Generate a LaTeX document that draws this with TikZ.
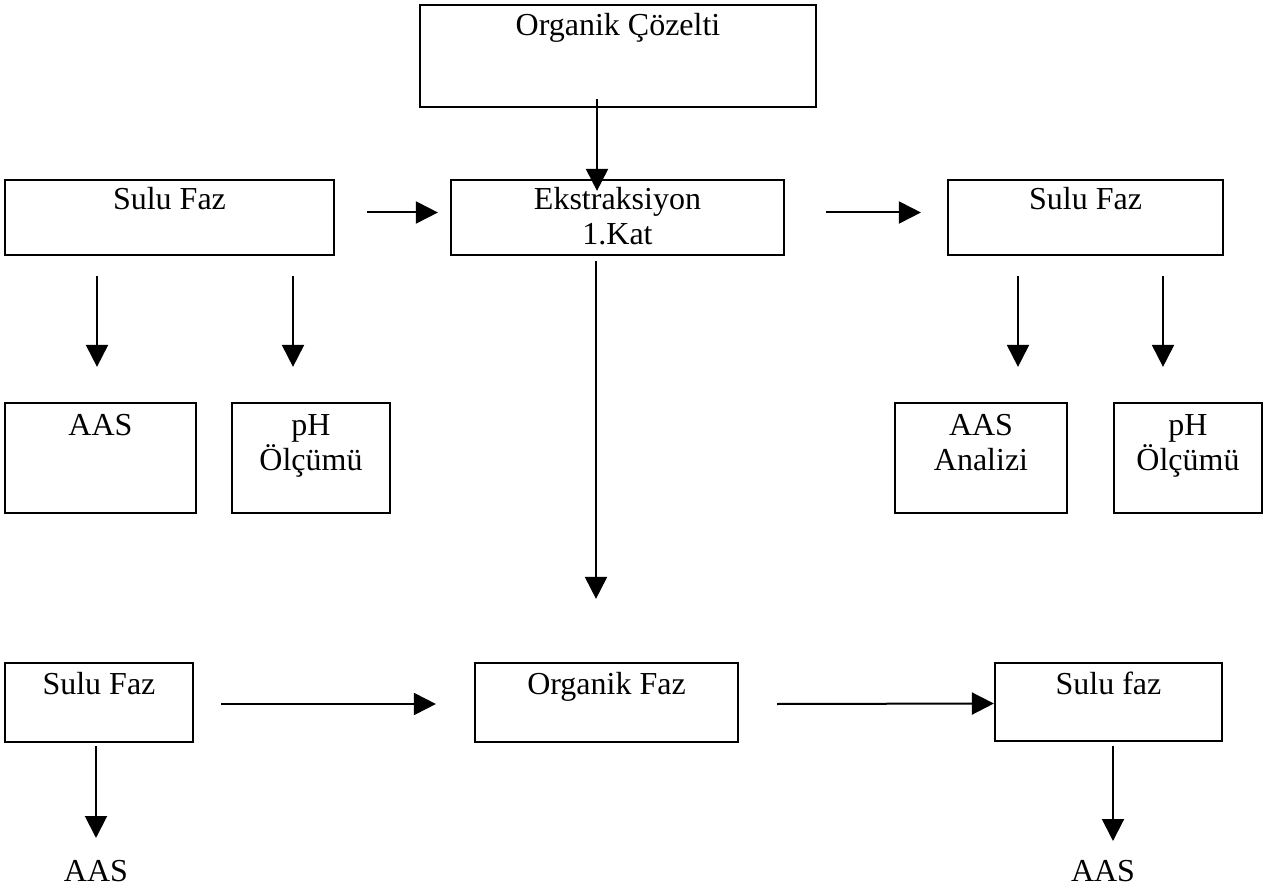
\documentclass[tikz,border=0pt]{standalone}
\usepackage{fontspec}
\setmainfont{Liberation Serif}
\usetikzlibrary{arrows.meta,positioning}

\begin{document}
\begin{tikzpicture}[x=1pt,y=-1pt,
    kutu/.style={draw, line width=2.2pt, inner sep=0pt},
    yazi/.style={inner sep=0pt, anchor=north, align=center,
      font=\fontsize{32}{35}\selectfont},
    ok/.style={-{Triangle[width=22pt,length=22pt]}, line width=2pt}]
        \useasboundingbox (0,0) rectangle (1264,890);
        % kutular
        \node[kutu, minimum width=396pt, minimum height=102pt] (coz) at (618,56) {};
        \node[kutu, minimum width=329pt, minimum height=75pt] (sfL) at (169.5,217.5) {};
        \node[kutu, minimum width=333pt, minimum height=75pt] (eks) at (617.5,217.5) {};
        \node[kutu, minimum width=275pt, minimum height=75pt] (sfR) at (1085.5,217.5) {};
        \node[kutu, minimum width=191pt, minimum height=110pt] (aasL) at (100.5,458) {};
        \node[kutu, minimum width=158pt, minimum height=110pt] (phL) at (311,458) {};
        \node[kutu, minimum width=172pt, minimum height=110pt] (aasR) at (981,458) {};
        \node[kutu, minimum width=148pt, minimum height=110pt] (phR) at (1188,458) {};
        \node[kutu, minimum width=188pt, minimum height=79pt] (sfB) at (99,702.5) {};
        \node[kutu, minimum width=263pt, minimum height=79pt] (orgB) at (606.5,702.5) {};
        \node[kutu, minimum width=227pt, minimum height=78pt] (sfBR) at (1108.5,702) {};
        % yazilar
        \node[yazi, below=9pt of coz.north] (cozt) {Organik Çözelti};
        \node[yazi, below=8pt of sfL.north] (sfLt) {Sulu Faz};
        \node[yazi, below=8pt of eks.north] (ekst) {Ekstraksiyon\\1.Kat};
        \node[yazi, below=8pt of sfR.north] (sfRt) {Sulu Faz};
        \node[yazi, below=12pt of aasL.north] (aasLt) {AAS};
        \node[yazi, below=12pt of phL.north] (phLt) {pH\\Ölçümü};
        \node[yazi, below=12pt of aasR.north] (aasRt) {AAS\\Analizi};
        \node[yazi, below=12pt of phR.north] (phRt) {pH\\Ölçümü};
        \node[yazi, below=10pt of sfB.north] (sfBt) {Sulu Faz};
        \node[yazi, below=10pt of orgB.north] (orgBt) {Organik Faz};
        \node[yazi, below=10pt of sfBR.north] (sfBRt) {Sulu faz};
        \node[yazi] (aasBL) at (96,860) {AAS};
        \node[yazi] (aasBR) at (1103,860) {AAS};
        % oklar
        \draw[ok] ([xshift=-21pt,yshift=9pt]coz.south) -- ([xshift=-20.5pt,yshift=-12pt]eks.north);
        \draw[ok] ([xshift=32pt,yshift=5pt]sfL.east) -- ([xshift=-12pt,yshift=5pt]eks.west);
        \draw[ok] ([xshift=41pt,yshift=5pt]eks.east) -- ([xshift=-26pt,yshift=5pt]sfR.west);
        \draw[ok] ([xshift=-72.5pt,yshift=-20pt]sfL.south) -- ([xshift=-3.5pt,yshift=35pt]aasL.north);
        \draw[ok] ([xshift=123.5pt,yshift=-20pt]sfL.south) -- ([xshift=-18pt,yshift=35pt]phL.north);
        \draw[ok] ([xshift=-67.5pt,yshift=-20pt]sfR.south) -- ([xshift=37pt,yshift=35pt]aasR.north);
        \draw[ok] ([xshift=77.5pt,yshift=-20pt]sfR.south) -- ([xshift=-25pt,yshift=35pt]phR.north);
        \draw[ok] ([xshift=-21.5pt,yshift=-5pt]eks.south) -- ([xshift=-10.5pt,yshift=63pt]orgB.north);
        \draw[ok] ([xshift=27pt,yshift=-1.5pt]sfB.east) -- ([xshift=-38pt,yshift=-1.5pt]orgB.west);
        \draw[ok] ([xshift=38pt,yshift=-1.5pt]orgB.east) -- ([yshift=-1.5pt]sfBR.west);
        \draw[ok] ([xshift=-3pt,yshift=-3pt]sfB.south) -- ([yshift=22pt]aasBL.north);
        \draw[ok] ([xshift=4.5pt,yshift=-4pt]sfBR.south) -- ([xshift=10pt,yshift=19pt]aasBR.north);
\end{tikzpicture}
\end{document}
